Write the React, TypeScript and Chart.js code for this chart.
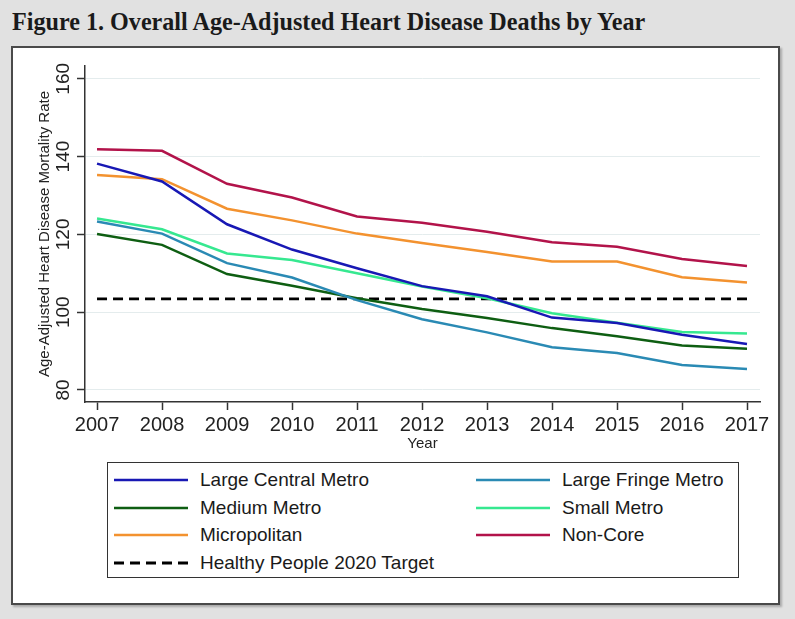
import React, { useEffect, useRef } from "react";
import { Chart, registerables } from "chart.js";

Chart.register(...registerables);

const years = [2007, 2008, 2009, 2010, 2011, 2012, 2013, 2014, 2015, 2016, 2017];
const yTicks = [80, 100, 120, 140, 160];

const largeCentralMetro = [138.2, 133.6, 122.6, 116.1, 111.3, 106.7, 104.1, 98.6, 97.2, 94.2, 91.8];
const largeFringeMetro = [123.3, 120.2, 112.6, 108.9, 103.1, 98.2, 94.8, 91.0, 89.5, 86.4, 85.4];
const mediumMetro = [120.1, 117.3, 109.8, 106.8, 103.6, 100.8, 98.5, 95.9, 93.8, 91.4, 90.6];
const smallMetro = [124.1, 121.3, 115.1, 113.4, 110.0, 106.6, 103.6, 99.7, 97.3, 94.9, 94.5];
const micropolitan = [135.3, 134.2, 126.6, 123.6, 120.2, 117.8, 115.5, 113.0, 113.0, 109.0, 107.6];
const nonCore = [141.9, 141.5, 133.0, 129.5, 124.6, 123.0, 120.7, 118.0, 116.8, 113.7, 111.9];
const healthyPeopleTarget = years.map(() => 103.4);

const seriesNames = [
  "Large Central Metro",
  "Large Fringe Metro",
  "Medium Metro",
  "Small Metro",
  "Micropolitan",
  "Non-Core",
  "Healthy People 2020 Target",
];
const seriesValues = [
  largeCentralMetro,
  largeFringeMetro,
  mediumMetro,
  smallMetro,
  micropolitan,
  nonCore,
  healthyPeopleTarget,
];
const seriesColors = ["#1818b4", "#2a8ab4", "#0e5e12", "#36e890", "#f3922f", "#b2134a", "#000000"];
const seriesDashed = [false, false, false, false, false, false, true];

const FONT = "'Liberation Sans', Arial, Helvetica, sans-serif";

const yLabelPlugin = {
  id: "yRotLabels",
  afterDraw(chart: any) {
    const ctx = chart.ctx;
    const scale = chart.scales.y;
    ctx.save();
    ctx.fillStyle = "#222";
    ctx.font = `19px ${FONT}`;
    ctx.textAlign = "center";
    ctx.textBaseline = "alphabetic";
    yTicks.forEach((v) => {
      const py = scale.getPixelForValue(v);
      ctx.save();
      ctx.translate(69, py);
      ctx.rotate(-Math.PI / 2);
      ctx.fillText(String(v), 0, 0);
      ctx.restore();
    });
    ctx.restore();
  },
};

export default function App() {
  const ref = useRef<HTMLCanvasElement | null>(null);

  useEffect(() => {
    if (!ref.current) return;
    const chart = new Chart(ref.current, {
      type: "line",
      data: {
        datasets: seriesNames.map((name, i) => ({
          label: name,
          data: years.map((yr, j) => ({ x: yr, y: seriesValues[i][j] })),
          borderColor: seriesColors[i],
          backgroundColor: seriesColors[i],
          borderWidth: seriesDashed[i] ? 2.8 : 2.5,
          borderDash: seriesDashed[i] ? [10, 6] : [],
          pointRadius: 0,
          tension: 0,
          fill: false,
        })),
      },
      options: {
        animation: false,
        responsive: false,
        maintainAspectRatio: false,
        layout: { padding: { top: 18, right: 35, left: 0, bottom: 0 } },
        plugins: {
          legend: { display: false },
          tooltip: { enabled: false },
        },
        scales: {
          x: {
            type: "linear",
            min: 2006.815,
            max: 2017.2,
            afterBuildTicks: (s: any) => {
              s.ticks = years.map((v) => ({ value: v }));
            },
            afterFit: (s: any) => {
              s.height = 56;
            },
            ticks: {
              font: { family: FONT, size: 20 },
              color: "#222",
              padding: 3,
              maxRotation: 0,
              callback: (v: any) => String(v),
            },
            grid: {
              drawOnChartArea: false,
              drawTicks: true,
              tickLength: 8,
              tickColor: "#333",
              tickWidth: 1.5,
            },
            border: { display: true, color: "#333", width: 1.5 },
            title: {
              display: true,
              text: "Year",
              color: "#222",
              font: { family: FONT, size: 15 },
              padding: { top: 0, bottom: 5 },
            },
          },
          y: {
            type: "linear",
            min: 76.9,
            max: 163.3,
            afterBuildTicks: (s: any) => {
              s.ticks = yTicks.map((v) => ({ value: v }));
            },
            afterFit: (s: any) => {
              s.width = 85;
            },
            ticks: { display: false },
            grid: {
              color: "#e4eced",
              lineWidth: 1,
              drawTicks: true,
              tickLength: 8,
              tickColor: "#333",
              tickWidth: 1.5,
            },
            border: { display: true, color: "#333", width: 1.5 },
            title: {
              display: true,
              text: "Age-Adjusted Heart Disease Mortality Rate",
              color: "#222",
              font: { family: FONT, size: 15 },
              padding: { top: 36, bottom: 0 },
            },
          },
        },
      },
      plugins: [yLabelPlugin],
    });
    return () => chart.destroy();
  }, []);

  const legendRows = [
    [0, 1],
    [2, 3],
    [4, 5],
    [6],
  ];

  return (
    <div
      style={{
        position: "absolute",
        left: 0,
        top: 0,
        width: 795,
        height: 619,
        background: "#e1e1e1",
        overflow: "hidden",
      }}
    >
      <div
        style={{
          position: "absolute",
          left: 12,
          top: 8,
          whiteSpace: "nowrap",
          fontFamily: "'Liberation Serif', 'Times New Roman', serif",
          fontWeight: "bold",
          fontSize: 25,
          color: "#1a1a1a",
          transform: "scaleX(0.965)",
          transformOrigin: "left top",
        }}
      >
        Figure 1. Overall Age-Adjusted Heart Disease Deaths by Year
      </div>
      <div
        style={{
          position: "absolute",
          left: 11,
          top: 46,
          width: 769,
          height: 559,
          boxSizing: "border-box",
          border: "2px solid #4a4a4a",
          background: "#ffffff",
          boxShadow: "2px 2px 2px rgba(0,0,0,0.25)",
        }}
      />
      <canvas
        ref={ref}
        width={795}
        height={410}
        style={{ position: "absolute", left: 0, top: 48, width: 795, height: 410 }}
      />
      <div
        style={{
          position: "absolute",
          left: 107,
          top: 462,
          width: 632,
          height: 116,
          boxSizing: "border-box",
          border: "1px solid #333",
          background: "#fff",
        }}
      >
        {legendRows.map((row, r) =>
          row.map((idx, c) => (
            <div
              key={idx}
              style={{
                position: "absolute",
                left: c === 0 ? 6 : 368,
                top: 17 + r * 27.6 - 12,
                height: 24,
                display: "flex",
                alignItems: "center",
                whiteSpace: "nowrap",
              }}
            >
              <svg width={74} height={24} style={{ display: "block" }}>
                <line
                  x1={0}
                  y1={12}
                  x2={74}
                  y2={12}
                  stroke={seriesColors[idx]}
                  strokeWidth={seriesDashed[idx] ? 3 : 2.5}
                  strokeDasharray={seriesDashed[idx] ? "10 6" : undefined}
                />
              </svg>
              <span
                style={{
                  marginLeft: 12,
                  fontFamily: FONT,
                  fontSize: 19,
                  color: "#1a1a1a",
                  lineHeight: "24px",
                }}
              >
                {seriesNames[idx]}
              </span>
            </div>
          ))
        )}
      </div>
    </div>
  );
}
